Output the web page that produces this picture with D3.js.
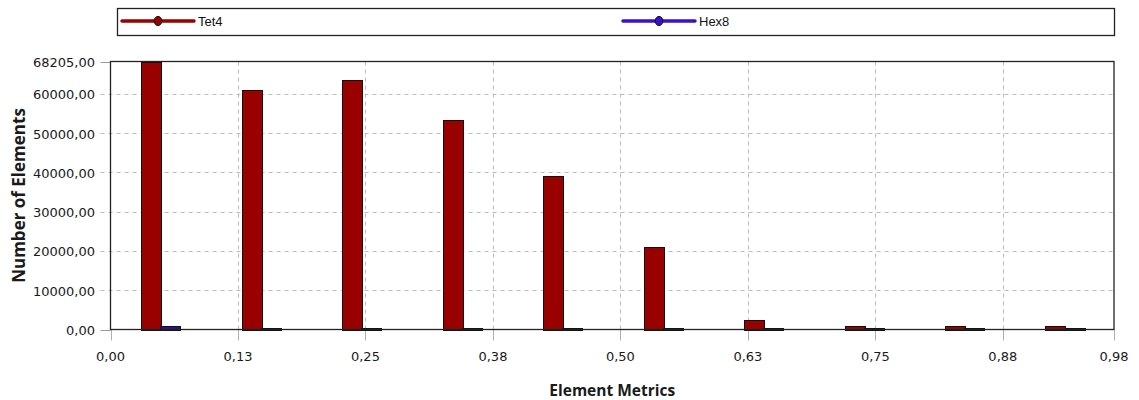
<!DOCTYPE html>
<html>
<head>
<meta charset="utf-8">
<script src="https://cdn.jsdelivr.net/npm/d3@7"></script>
<style>
  html, body { margin: 0; padding: 0; background: #fff; }
  svg { display: block; }
</style>
</head>
<body>
<svg id="chart" width="1139" height="400"></svg>
<script>
// Element quality histogram: element counts per metric bin
const binCenters = [0.049, 0.148, 0.246, 0.345, 0.443, 0.542, 0.640, 0.739, 0.837, 0.936];
const tet4Counts = [68205, 60900, 63600, 53200, 39100, 21100, 2450, 900, 900, 900];
const hex8Counts = [850, 350, 300, 300, 300, 300, 300, 300, 300, 300];
const seriesNames = ["Tet4", "Hex8"];
const xTickValues = [0, 0.125, 0.25, 0.375, 0.5, 0.625, 0.75, 0.875, 0.984];
const yTickValues = [0, 10000, 20000, 30000, 40000, 50000, 60000, 68205];
const xMax = 0.984;
const yMax = 68205;

const colors = { Tet4: "#990000", Hex8: "#3a10d0" };
const barFill = { Tet4: "#990000", Hex8: "#2e0c9e" };

const svg = d3.select("#chart");
const plot = { left: 110.5, right: 1114, top: 61.5, bottom: 329.5 };

const x = d3.scaleLinear().domain([0, xMax]).range([plot.left, plot.right]);
const y = d3.scaleLinear().domain([0, yMax]).range([plot.bottom, plot.top]);

const commaFmt = d3.formatLocale({ decimal: ",", thousands: "", grouping: [3], currency: ["", ""] });
const fmt2 = commaFmt.format(".2f");
// round half up so 0.125 reads as 0,13
const tickLabel = v => fmt2(Math.round(v * 100 + 1e-9) / 100);

// grid lines
const grid = svg.append("g");
grid.selectAll("line.h")
  .data(yTickValues.filter(v => v > 0 && v < yMax))
  .join("line")
  .attr("x1", plot.left - 10).attr("x2", plot.right)
  .attr("y1", d => Math.round(y(d)) + 0.5).attr("y2", d => Math.round(y(d)) + 0.5)
  .attr("stroke", "#bcbcbc").attr("stroke-dasharray", "4,4");
grid.selectAll("line.v")
  .data(xTickValues.filter(v => v > 0 && v < xMax))
  .join("line")
  .attr("x1", d => Math.round(x(d)) + 0.5).attr("x2", d => Math.round(x(d)) + 0.5)
  .attr("y1", plot.top).attr("y2", plot.bottom + 10)
  .attr("stroke", "#bcbcbc").attr("stroke-dasharray", "4,4");

// solid tick stubs outside the plot
svg.append("g").selectAll("line")
  .data([0, yMax])
  .join("line")
  .attr("x1", plot.left - 10).attr("x2", plot.left)
  .attr("y1", d => Math.round(y(d)) + 0.5).attr("y2", d => Math.round(y(d)) + 0.5)
  .attr("stroke", "#9a9a9a");
svg.append("g").selectAll("line")
  .data(xTickValues)
  .join("line")
  .attr("x1", d => Math.round(x(d)) + 0.5).attr("x2", d => Math.round(x(d)) + 0.5)
  .attr("y1", plot.bottom).attr("y2", plot.bottom + 11)
  .attr("stroke", "#b0b0b0");

// bars: Tet4 left of the bin centre, Hex8 right of it
const barW = x(0.0192) - x(0);
const bars = svg.append("g");
bars.selectAll("rect.tet")
  .data(binCenters.map((c, i) => ({ c, v: tet4Counts[i] })))
  .join("rect")
  .attr("x", d => Math.round(x(d.c) - barW) + 0.5)
  .attr("y", d => Math.round(y(d.v)) + 0.5)
  .attr("width", Math.round(barW))
  .attr("height", d => Math.max(0, Math.round(y(0)) - Math.round(y(d.v))))
  .attr("fill", barFill.Tet4).attr("stroke", "#111").attr("stroke-width", 1);
bars.selectAll("rect.hex")
  .data(binCenters.map((c, i) => ({ c, v: hex8Counts[i] })))
  .join("rect")
  .attr("x", d => Math.round(x(d.c)) + 0.5)
  .attr("y", d => Math.round(y(d.v)) + 0.5)
  .attr("width", Math.round(barW))
  .attr("height", d => Math.max(0, Math.round(y(0)) - Math.round(y(d.v))))
  .attr("fill", barFill.Hex8).attr("stroke", "#111").attr("stroke-width", 1);

// plot frame
svg.append("rect")
  .attr("x", plot.left).attr("y", plot.top)
  .attr("width", plot.right - plot.left).attr("height", plot.bottom - plot.top)
  .attr("fill", "none").attr("stroke", "#222").attr("stroke-width", 1.3);

// tick labels
const tickFont = "'DejaVu Sans', Verdana, sans-serif";
svg.append("g").selectAll("text")
  .data(yTickValues)
  .join("text")
  .attr("x", 95).attr("y", d => y(d) + 5.5)
  .attr("text-anchor", "end")
  .attr("font-family", tickFont).attr("font-size", 13).attr("fill", "#1a1a1a")
  .text(d => fmt2(d));
svg.append("g").selectAll("text")
  .data(xTickValues)
  .join("text")
  .attr("x", d => x(d)).attr("y", 361)
  .attr("text-anchor", "middle")
  .attr("font-family", tickFont).attr("font-size", 13).attr("fill", "#1a1a1a")
  .text(d => tickLabel(d));

// axis titles
const titleFont = "'Open Sans', 'Noto Sans', sans-serif";
svg.append("text")
  .attr("x", (plot.left + plot.right) / 2).attr("y", 396)
  .attr("text-anchor", "middle")
  .attr("font-family", titleFont).attr("font-weight", "bold").attr("font-size", 15.5)
  .attr("fill", "#1a1a1a")
  .text("Element Metrics");
svg.append("text")
  .attr("transform", `translate(25, ${(plot.top + plot.bottom) / 2}) rotate(-90)`)
  .attr("text-anchor", "middle")
  .attr("font-family", titleFont).attr("font-weight", "bold").attr("font-size", 17)
  .attr("fill", "#1a1a1a")
  .text("Number of Elements");

// legend
const legend = svg.append("g");
legend.append("rect")
  .attr("x", 117.5).attr("y", 8.5).attr("width", 997).attr("height", 27)
  .attr("fill", "#fff").attr("stroke", "#222").attr("stroke-width", 1.3);
const legendX = [122, 623];
seriesNames.forEach((name, i) => {
  const g = legend.append("g").attr("transform", `translate(${legendX[i]}, 21)`);
  g.append("line").attr("x1", 0).attr("x2", 72).attr("y1", 0).attr("y2", 0)
    .attr("stroke", colors[name]).attr("stroke-width", 3.5).attr("stroke-linecap", "round");
  g.append("ellipse").attr("cx", 36).attr("cy", 0).attr("rx", 3.8).attr("ry", 4.6)
    .attr("fill", colors[name]).attr("stroke", "#111").attr("stroke-width", 1);
  g.append("text").attr("x", 76).attr("y", 5)
    .attr("font-family", "'Liberation Sans', Arial, sans-serif").attr("font-size", 13)
    .attr("fill", "#111")
    .text(name);
});
</script>
</body>
</html>
